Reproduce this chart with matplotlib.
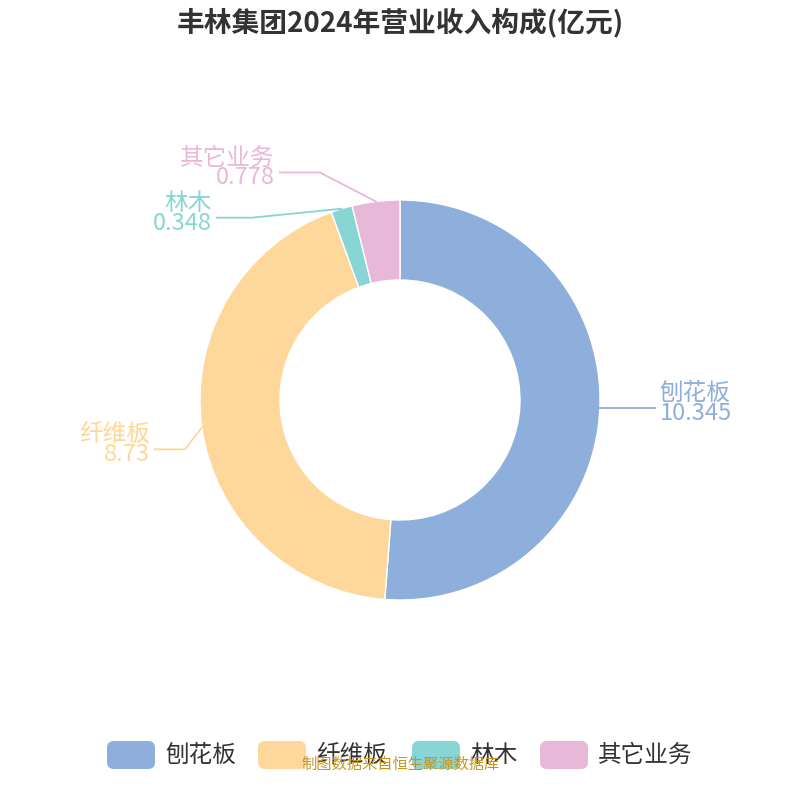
import numpy as np
import matplotlib.pyplot as plt
from matplotlib.patches import FancyBboxPatch

plt.rcParams['font.family'] = ['Noto Sans CJK SC', 'DejaVu Sans']

categories = ['刨花板', '纤维板', '林木', '其它业务']
values = [10.345, 8.73, 0.348, 0.778]
value_labels = ['10.345', '8.73', '0.348', '0.778']
colors = ['#8eaedb', '#fed89a', '#87d5d5', '#e8b8d8']

fig = plt.figure(figsize=(8, 8), dpi=100)
ax = fig.add_axes([0, 0, 1, 1])

cx, cy, R = 400, 400, 200
wedges, _ = ax.pie(values, colors=colors, startangle=90, counterclock=False,
                   radius=R, center=(cx, cy), frame=True,
                   wedgeprops=dict(width=80, edgecolor='white', linewidth=1))
ax.set_xlim(0, 800)
ax.set_ylim(0, 800)
ax.axis('off')

# label leader lines: bend from the edge, then horizontal run
elbow_dy = {0: 0, 1: -22, 2: -9, 3: 29}
elbow_dx = {0: 0, 1: -17, 2: -90, 3: -56}
run = {0: 55, 1: 30, 2: 35, 3: 40}
for i, w in enumerate(wedges):
    ang = np.deg2rad((w.theta1 + w.theta2) / 2)
    ex, ey = cx + R * np.cos(ang), cy + R * np.sin(ang)
    side = 1 if np.cos(ang) >= 0 else -1
    bx, by = ex + elbow_dx[i], ey + elbow_dy[i]
    hx = bx + side * run[i]
    ax.plot([ex, bx, hx], [ey, by, by], color=colors[i], lw=1.3)
    tx = hx + side * 5
    ha = 'left' if side > 0 else 'right'
    ax.text(tx, by + 3, categories[i], color=colors[i], fontsize=17, ha=ha, va='bottom')
    ax.text(tx, by + 6, value_labels[i], color=colors[i], fontsize=17, ha=ha, va='top')

fig.text(0.5, 0.972, '丰林集团2024年营业收入构成(亿元)', ha='center', va='center',
         fontsize=20, fontweight='bold', color='#333333')

# legend
lx = [107, 258, 412, 540]
for i, c in enumerate(categories):
    ax.add_patch(FancyBboxPatch((lx[i], 31), 48, 28, boxstyle='round,pad=0,rounding_size=7',
                                fc=colors[i], ec='none'))
    ax.text(lx[i] + 58, 45, c, fontsize=17, color='#333333', va='center', ha='left')

fig.text(0.5, 0.045, '制图数据来自恒生聚源数据库', ha='center', va='center',
         fontsize=11, color='#c8951e')

fig.savefig('out.png', dpi=100)
